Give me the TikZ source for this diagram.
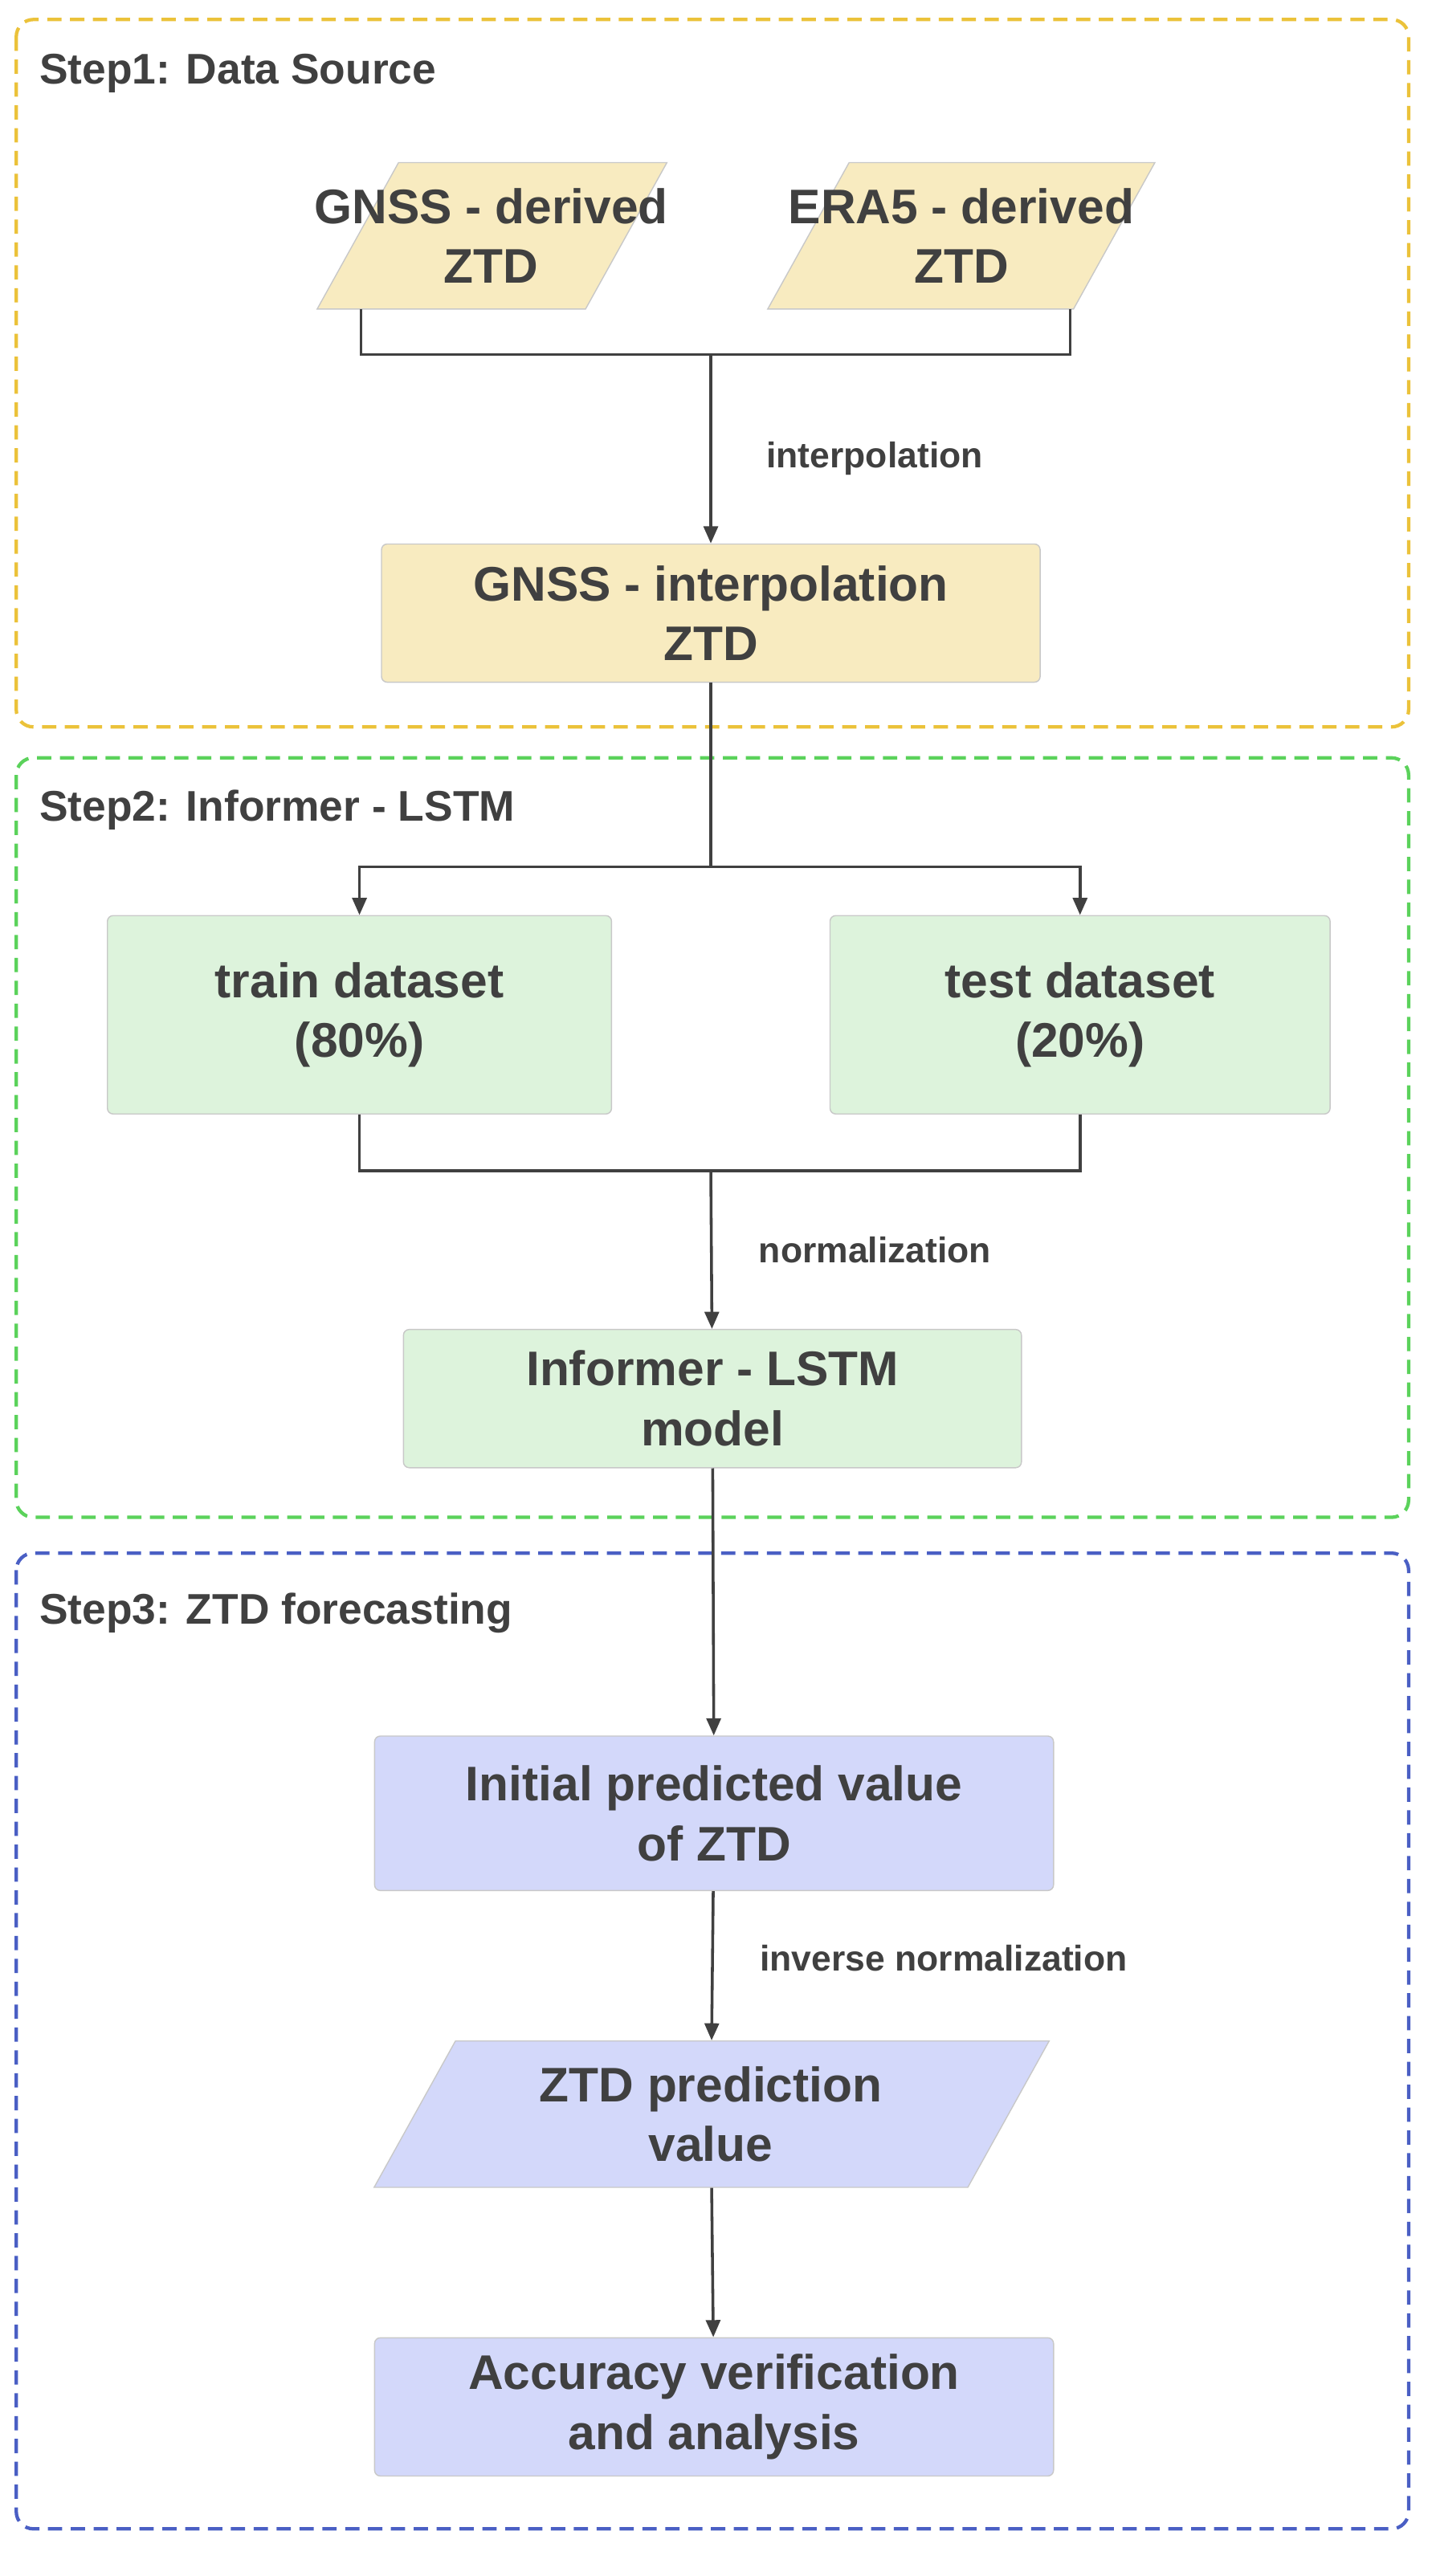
\documentclass[tikz,border=0pt]{standalone}
\usepackage{fontspec}
\setmainfont{Liberation Sans}
\usetikzlibrary{positioning, arrows.meta}
\definecolor{ylfill}{HTML}{F8EBC0}
\definecolor{gnfill}{HTML}{DDF3DC}
\definecolor{blfill}{HTML}{D3D8FA}
\definecolor{ylframe}{HTML}{EBC23A}
\definecolor{gnframe}{HTML}{5BD25B}
\definecolor{blframe}{HTML}{4A5FC4}
\definecolor{edge}{HTML}{C8C8C8}
\definecolor{ink}{HTML}{404040}
\begin{document}
\begin{tikzpicture}[
    x=0.02cm, y=-0.02cm,
    box/.style={rectangle, draw=edge, rounded corners=2pt, align=center, font=\fontsize{17}{21}\selectfont\bfseries, text=ink, minimum height=1.7cm},
    ptext/.style={rectangle, align=center, font=\fontsize{17}{21}\selectfont\bfseries, text=ink, minimum height=1.8cm},
    pshape/.style={draw=edge},
    frame/.style={dashed, line width=1.2pt, rounded corners=6pt, dash pattern=on 5pt off 3pt},
    steptitle/.style={anchor=west, font=\fontsize{15}{18}\selectfont\bfseries, text=ink},
    lbl/.style={anchor=west, font=\fontsize{12.5}{15}\selectfont\bfseries, text=ink},
    arrow/.style={-{Triangle[length=6pt,width=5pt]}, draw=ink, line width=1pt},
    link/.style={draw=ink, line width=1pt}
]
\useasboundingbox (0,0) rectangle (880,1584);

% Frames
\draw[frame, ylframe] (10,12) rectangle (866,447);
\draw[frame, gnframe] (10,466) rectangle (866,933);
\draw[frame, blframe] (10,955) rectangle (866,1555);
\node[steptitle] at (18,45) {Step1: Data Source};
\node[steptitle] at (18,498) {Step2: Informer - LSTM};
\node[steptitle] at (18,992) {Step3: ZTD forecasting};

% Parallelograms
\draw[pshape, fill=ylfill] (195,190) -- (245,100) -- (410,100) -- (360,190) -- cycle;
\draw[pshape, fill=ylfill] (472,190) -- (522,100) -- (710,100) -- (660,190) -- cycle;
\draw[pshape, fill=blfill] (230,1345) -- (280,1255) -- (645,1255) -- (595,1345) -- cycle;

% Nodes
\node[ptext] (gnss) at (302,145) {GNSS - derived\\ZTD};
\node[ptext] (era) at (591,145) {ERA5 - derived\\ZTD};
\node[box, fill=ylfill, minimum width=8.1cm] (interp) at (437,377) {GNSS - interpolation\\ZTD};
\node[box, fill=gnfill, minimum width=6.2cm, minimum height=2.44cm] (train) at (221,624) {train dataset\\(80\%)};
\node[box, fill=gnfill, minimum width=6.15cm, minimum height=2.44cm] (test) at (664,624) {test dataset\\(20\%)};
\node[box, fill=gnfill, minimum width=7.6cm] (model) at (438,860) {Informer - LSTM\\model};
\node[box, fill=blfill, minimum width=8.35cm, minimum height=1.9cm] (init) at (439,1115) {Initial predicted value\\of ZTD};
\node[ptext] (pred) at (437,1300) {ZTD prediction\\value};
\node[box, fill=blfill, minimum width=8.35cm] (acc) at (439,1480) {Accuracy verification\\and analysis};

% Connections
\coordinate (j1) at (437,218);
\coordinate (j2) at (437,533);
\coordinate (j3) at (437,720);
\draw[link] (gnss.south -| 222,0) |- (j1);
\draw[link] (era.south -| 658,0) |- (j1);
\draw[arrow] (j1) -- node[lbl, pos=0.55, right=0.55cm] {interpolation} (interp);
\draw[link] (interp) -- (j2);
\draw[arrow] (j2) -| (train);
\draw[arrow] (j2) -| (test);
\draw[link] (train) |- (j3);
\draw[link] (test) |- (j3);
\draw[arrow] (j3) -- node[lbl, pos=0.5, right=0.45cm] {normalization} (model);
\draw[arrow] (model) -- (init);
\draw[arrow] (init) -- node[lbl, pos=0.45, right=0.45cm] {inverse normalization} (pred);
\draw[arrow] (pred) -- (acc);
\end{tikzpicture}
\end{document}
